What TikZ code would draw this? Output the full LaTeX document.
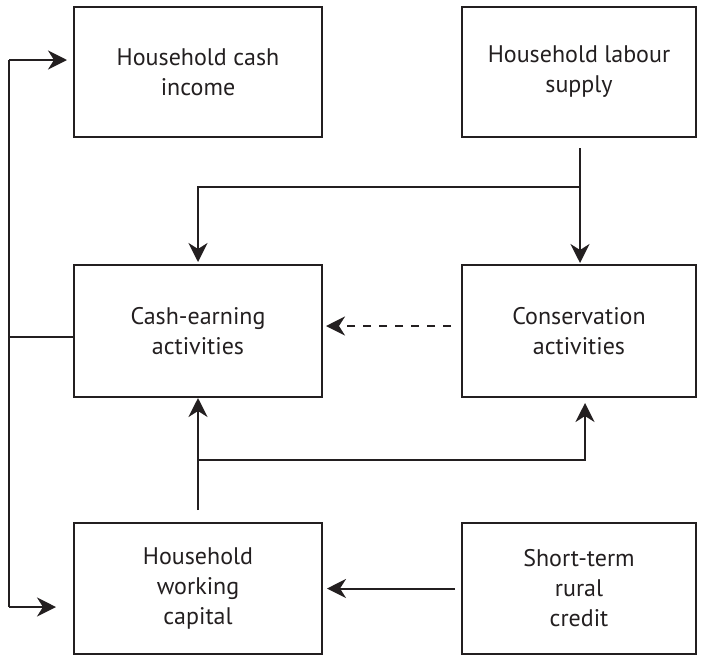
\documentclass[tikz,border=0pt]{standalone}
\usepackage{fontspec}
\setmainfont{PT Sans}
\usetikzlibrary{arrows.meta}
\definecolor{ink}{HTML}{231F20}
\begin{document}
\begin{tikzpicture}[x=1pt,y=-1pt,
  box/.style={draw=ink,line width=2pt,rectangle,align=center,text=ink,
    font=\fontsize{24}{30}\selectfont,inner sep=0pt},
  leftbox/.style={box,minimum width=248pt},
  rightbox/.style={box,minimum width=234pt},
  link/.style={draw=ink,line width=2pt},
  arr/.style={link,-{Stealth[length=19pt,width=19pt,inset=6pt]}}]
\useasboundingbox (0,0) rectangle (701,656);

% boxes
\node[leftbox,minimum height=130pt] (inc) at (198,72) {Household cash\\income};
\node[rightbox,minimum height=130pt] (lab) at (579,72) {Household labour\\supply};
\node[leftbox,minimum height=132pt] (cash) at (198,331) {Cash-earning\\activities};
\node[rightbox,minimum height=132pt] (cons) at (579,331) {Conservation\\activities};
\node[leftbox,minimum height=131pt] (wc) at (198,588.5) {Household\\working\\capital};
\node[rightbox,minimum height=131pt] (cred) at (579,588.5) {Short-term\\rural\\credit};

% junction points of the connectors
\coordinate (busTop) at (9,60);
\coordinate (busMid) at (9,337);
\coordinate (busBot) at (9,607);
\coordinate (labOut) at (580,148);
\coordinate (labSplit) at (580,187);
\coordinate (wcOut) at (198,510);
\coordinate (wcSplit) at (198,460);
\coordinate (consIn) at (585,397);

% cash income and working capital fed from cash-earning activities
\draw[link] (cash.west |- busMid) -- (busMid);
\draw[link] (busTop) -- (busBot);
\draw[arr,shorten >=6pt] (busTop) -- (busTop -| inc.west);
\draw[arr,shorten >=17pt] (busBot) -- (busBot -| wc.west);

% labour supply split between the two activities
\draw[arr,shorten >=1pt] (labOut) -- (labOut |- cons.north);
\draw[arr,shorten >=2pt] (labSplit) -| (cash.north);

% working capital split between the two activities
\draw[arr] (wcOut) -- (cash.south);
\draw[arr,shorten >=6pt] (wcSplit) -| (consIn);

% credit into working capital
\draw[arr,shorten <=6pt,shorten >=4pt] (cred.west) -- (wc.east);

% conservation effect on cash-earning activities
\draw[arr,dash pattern=on 8pt off 8pt,shorten <=10pt,shorten >=3pt]
  ([yshift=5pt]cons.west) -- ([yshift=5pt]cash.east);
\end{tikzpicture}
\end{document}
